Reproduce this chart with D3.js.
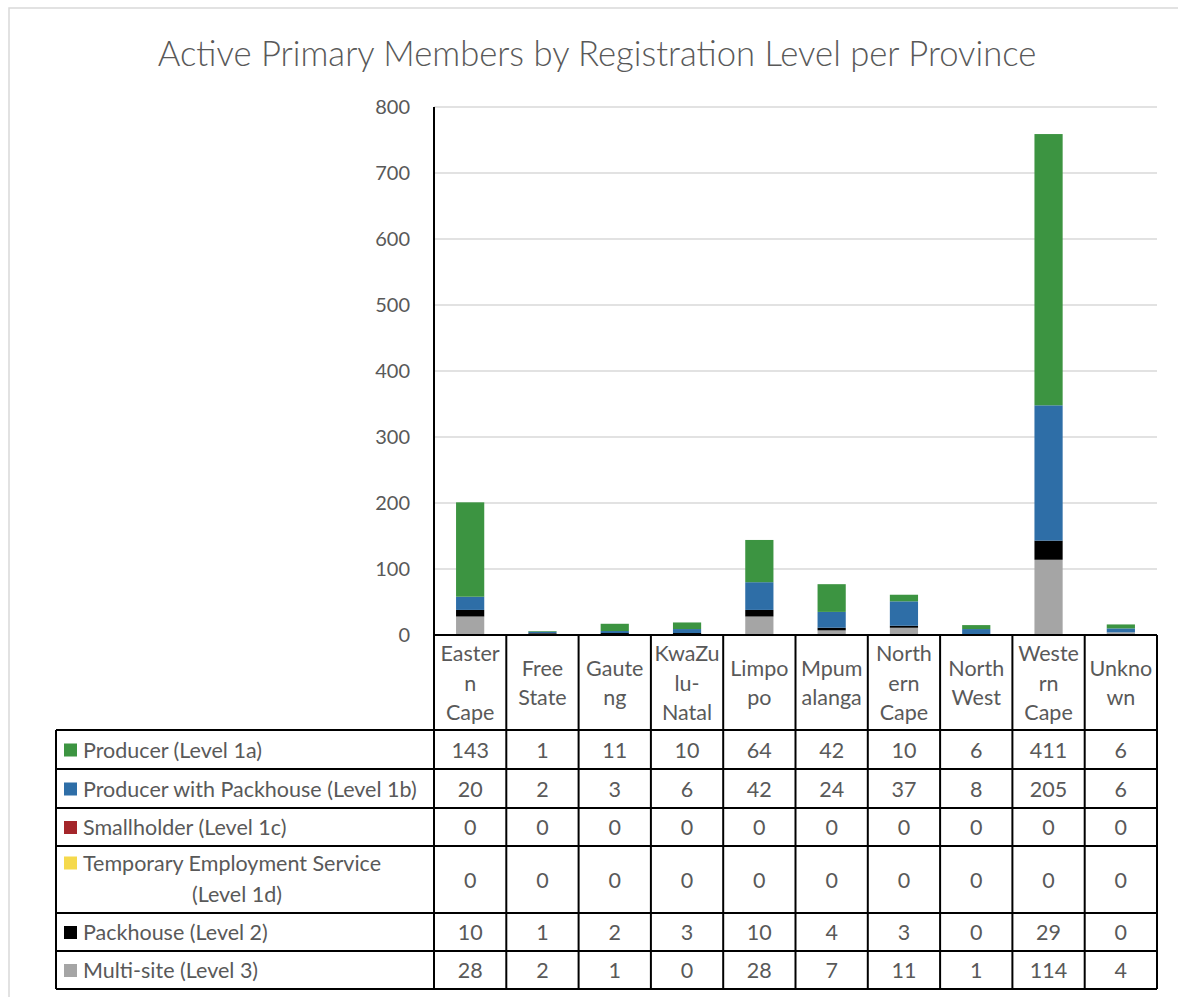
<!DOCTYPE html>
<html>
<head>
<meta charset="utf-8">
<script src="https://cdn.jsdelivr.net/npm/d3@7"></script>
<style>
  body { margin: 0; background: #fff; }
  text { font-family: Lato, "Open Sans", sans-serif; fill: #595959; }
</style>
</head>
<body>
<svg id="chart" width="1178" height="997"></svg>
<script>
// data
const provinces = ["Eastern Cape", "Free State", "Gauteng", "KwaZulu-Natal", "Limpopo",
  "Mpumalanga", "Northern Cape", "North West", "Western Cape", "Unknown"];
// how Excel wrapped the category labels
const provinceLines = [["Easter", "n", "Cape"], ["Free", "State"], ["Gaute", "ng"], ["KwaZu", "lu-", "Natal"],
  ["Limpo", "po"], ["Mpum", "alanga"], ["North", "ern", "Cape"], ["North", "West"], ["Weste", "rn", "Cape"], ["Unkno", "wn"]];

const seriesNames = ["Producer (Level 1a)", "Producer with Packhouse (Level 1b)", "Smallholder (Level 1c)",
  "Temporary Employment Service (Level 1d)", "Packhouse (Level 2)", "Multi-site (Level 3)"];
const seriesColors = ["#3c9441", "#2e6ea7", "#a4262a", "#f5d94c", "#000000", "#a5a5a5"];

const producer      = [143, 1, 11, 10, 64, 42, 10, 6, 411, 6];
const prodPackhouse = [20, 2, 3, 6, 42, 24, 37, 8, 205, 6];
const smallholder   = [0, 0, 0, 0, 0, 0, 0, 0, 0, 0];
const tempEmploy    = [0, 0, 0, 0, 0, 0, 0, 0, 0, 0];
const packhouse     = [10, 1, 2, 3, 10, 4, 3, 0, 29, 0];
const multiSite     = [28, 2, 1, 0, 28, 7, 11, 1, 114, 4];
const seriesValues = [producer, prodPackhouse, smallholder, tempEmploy, packhouse, multiSite];

const yTicks = [0, 100, 200, 300, 400, 500, 600, 700, 800];

const svg = d3.select("#chart");

// layout
const plotL = 434, plotR = 1157, plotT = 107, plotB = 635;
const tableL = 56, catRowB = 730;
const rowBounds = [730, 769, 808, 846, 913, 951, 989];
const textColor = "#595959";
const fs = "21.5px";

// outer chart border
svg.append("rect").attr("x", 9).attr("y", 8).attr("width", 1200).attr("height", 1020)
  .attr("fill", "none").attr("stroke", "#d9d9d9").attr("stroke-width", 1.5);

// title, fitted to its width in the reference
const title = svg.append("text").attr("x", 597).attr("y", 52)
  .attr("text-anchor", "middle").attr("dominant-baseline", "central")
  .style("font-weight", 300).style("font-size", "30px")
  .text("Active Primary Members by Registration Level per Province");
const tw = title.node().getComputedTextLength();
title.style("font-size", (30 * 879 / tw) + "px");

const x = d3.scaleBand().domain(provinces).range([plotL, plotR]).paddingInner(0.61).paddingOuter(0.305);
const xCell = d3.scaleBand().domain(provinces).range([plotL, plotR]);
const y = d3.scaleLinear().domain([0, 800]).range([plotB, plotT]);

// gridlines
svg.append("g").selectAll("line").data(yTicks.slice(1)).join("line")
  .attr("x1", plotL).attr("x2", plotR)
  .attr("y1", d => y(d)).attr("y2", d => y(d))
  .attr("stroke", "#d9d9d9").attr("stroke-width", 1.5);

// y axis labels
const yAxis = svg.append("g").attr("transform", `translate(${plotL},0)`)
  .call(d3.axisLeft(y).tickValues(yTicks).tickSize(0).tickPadding(24));
yAxis.select(".domain").remove();
yAxis.selectAll("text").style("font-size", "20px").style("font-family", "Lato, 'Open Sans', sans-serif")
  .attr("fill", textColor);

// stacked bars: bottom is Multi-site, top is Producer
const rows = provinces.map((p, i) => {
  const r = { province: p };
  seriesNames.forEach((s, j) => r[s] = seriesValues[j][i]);
  return r;
});
const stackOrder = seriesNames.slice().reverse();
const stacked = d3.stack().keys(stackOrder)(rows);

svg.append("g").selectAll("g").data(stacked).join("g")
  .attr("fill", d => seriesColors[seriesNames.indexOf(d.key)])
  .selectAll("rect").data(d => d).join("rect")
  .attr("x", d => x(d.data.province))
  .attr("width", x.bandwidth())
  .attr("y", d => y(d[1]))
  .attr("height", d => y(d[0]) - y(d[1]));

// data table
const grid = svg.append("g").attr("stroke", "#000").attr("stroke-width", 2);
// category row verticals
xCell.domain().forEach(p => {
  grid.append("line").attr("x1", xCell(p)).attr("x2", xCell(p)).attr("y1", plotB).attr("y2", rowBounds[6]);
});
grid.append("line").attr("x1", plotR).attr("x2", plotR).attr("y1", plotB).attr("y2", rowBounds[6]);
grid.append("line").attr("x1", tableL).attr("x2", tableL).attr("y1", rowBounds[0]).attr("y2", rowBounds[6]);
// y axis line
grid.append("line").attr("x1", plotL).attr("x2", plotL).attr("y1", plotT).attr("y2", plotB);
// horizontals
grid.append("line").attr("x1", plotL).attr("x2", plotR).attr("y1", plotB).attr("y2", plotB);
rowBounds.forEach(b => {
  grid.append("line").attr("x1", tableL).attr("x2", plotR).attr("y1", b).attr("y2", b);
});

// category labels
const lineH = 29.5;
provinces.forEach((p, i) => {
  const lines = provinceLines[i];
  const cx = xCell(p) + xCell.bandwidth() / 2;
  const cy = (plotB + catRowB) / 2;
  lines.forEach((t, k) => {
    svg.append("text").attr("x", cx).attr("y", cy + (k - (lines.length - 1) / 2) * lineH)
      .attr("text-anchor", "middle").attr("dominant-baseline", "central")
      .style("font-size", fs).text(t);
  });
});

// legend column + values
seriesNames.forEach((s, j) => {
  const top = rowBounds[j], bot = rowBounds[j + 1];
  const cy = (top + bot) / 2;
  if (j === 3) {
    svg.append("rect").attr("x", 64).attr("y", cy - 17 - 6).attr("width", 13).attr("height", 13)
      .attr("fill", seriesColors[j]);
    svg.append("text").attr("x", 83).attr("y", cy - 17).attr("dominant-baseline", "central")
      .style("font-size", fs).text("Temporary Employment Service");
    svg.append("text").attr("x", 237).attr("y", cy + 14).attr("text-anchor", "middle")
      .attr("dominant-baseline", "central").style("font-size", fs).text("(Level 1d)");
  } else {
    svg.append("rect").attr("x", 64).attr("y", cy - 6).attr("width", 13).attr("height", 13)
      .attr("fill", seriesColors[j]);
    svg.append("text").attr("x", 83).attr("y", cy).attr("dominant-baseline", "central")
      .style("font-size", fs).text(s);
  }
  seriesValues[j].forEach((v, i) => {
    svg.append("text").attr("x", xCell(provinces[i]) + xCell.bandwidth() / 2).attr("y", cy)
      .attr("text-anchor", "middle").attr("dominant-baseline", "central")
      .style("font-size", fs).text(v);
  });
});
</script>
</body>
</html>
